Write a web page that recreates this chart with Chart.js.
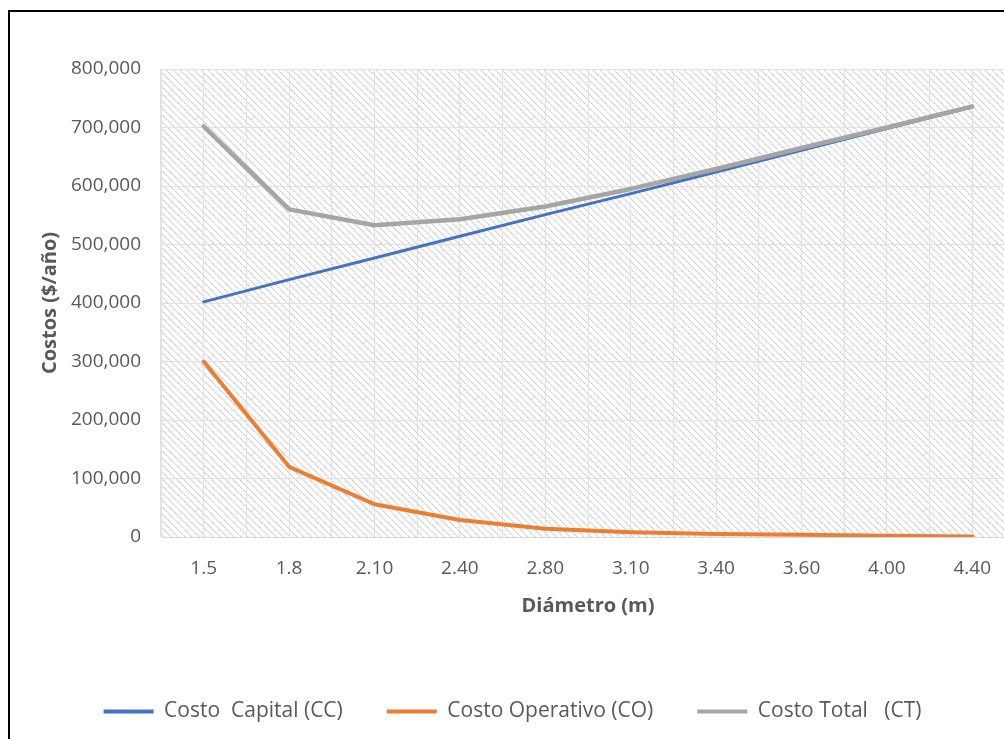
<!DOCTYPE html>
<html>
<head>
<meta charset="utf-8">
<script src="https://cdn.jsdelivr.net/npm/chart.js@4.4.1/dist/chart.umd.min.js"></script>
<style>
  html, body { margin: 0; padding: 0; background: #fff; overflow: hidden; width: 1004px; height: 739px; }
  #frame { position: absolute; left: 8px; top: 10px; border-left: 2px solid #000; border-top: 2px solid #000; width: 1010px; height: 760px; }
  canvas { display: block; }
</style>
</head>
<body>
<div id="frame"><canvas id="chart" width="1010" height="760"></canvas></div>
<script>
// datos
const diametros = ['1.5', '1.8', '2.10', '2.40', '2.80', '3.10', '3.40', '3.60', '4.00', '4.40'];
const costoCapital = [402000, 440000, 477000, 514000, 551000, 587000, 624000, 661000, 698000, 735000];
const costoOperativo = [300000, 120000, 56000, 29000, 14000, 8000, 5000, 4000, 2000, 1000];
const costoTotal = [702000, 560000, 533000, 543000, 565000, 595000, 629000, 665000, 700000, 736000];
const yTicks = [0, 100000, 200000, 300000, 400000, 500000, 600000, 700000, 800000];

const gridColor = '#e2e2e2';
const textColor = '#595959';

Chart.defaults.font.family = "'Open Sans', 'Noto Sans', sans-serif";
Chart.defaults.font.size = 19;
Chart.defaults.color = textColor;

// fondo rayado del area de trazado
function makeHatch() {
  const t = document.createElement('canvas');
  t.width = 7; t.height = 7;
  const g = t.getContext('2d');
  for (let i = 0; i < 7; i++) {
    g.fillStyle = i % 2 ? '#dedede' : '#cccccc';
    g.fillRect(i, i, 1, 1);
    g.fillStyle = '#efefef';
    g.fillRect((i + 1) % 7, i, 1, 1);
  }
  return t;
}

const hatchBg = {
  id: 'hatchBg',
  beforeDraw(chart) {
    const { ctx, chartArea: a } = chart;
    ctx.save();
    ctx.fillStyle = ctx.createPattern(makeHatch(), 'repeat');
    ctx.fillRect(a.left, a.top, a.right - a.left, a.bottom - a.top);
    ctx.restore();
  }
};

const ctx = document.getElementById('chart').getContext('2d');
new Chart(ctx, {
  type: 'line',
  data: {
    labels: diametros,
    datasets: [{
      label: 'Costo  Capital (CC)',
      data: costoCapital,
      borderColor: '#4472C4',
      backgroundColor: '#4472C4',
      borderWidth: 3,
      order: 2
    },
    {
      label: 'Costo Operativo (CO)',
      data: costoOperativo,
      borderColor: '#ED7D31',
      backgroundColor: '#ED7D31',
      borderWidth: 4,
      order: 1
    },
    {
      label: 'Costo Total   (CT)',
      data: costoTotal,
      borderColor: '#A5A5A5',
      backgroundColor: '#A5A5A5',
      borderWidth: 4.5,
      order: 0
    }]
  },
  options: {
    responsive: false,
    animation: false,
    layout: { padding: { left: 0, right: 5, top: 57, bottom: 40 } },
    elements: {
      point: { radius: 0 },
      line: { tension: 0, borderJoinStyle: 'round', borderCapStyle: 'round' }
    },
    plugins: {
      tooltip: { enabled: false },
      legend: {
        position: 'bottom',
        labels: {
          boxWidth: 50,
          boxHeight: 4,
          padding: 44,
          color: textColor,
          font: { size: 21 },
          sort: (a, b) => a.datasetIndex - b.datasetIndex,
          generateLabels(chart) {
            const items = Chart.defaults.plugins.legend.labels.generateLabels(chart);
            items.forEach(it => { it.fillStyle = it.strokeStyle; it.lineWidth = 0; });
            return items;
          }
        }
      }
    },
    scales: {
      x: {
        type: 'category',
        offset: true,
        grid: { color: gridColor, offset: false, drawTicks: false },
        border: { color: '#d9d9d9' },
        ticks: { padding: 20, color: textColor },
        title: {
          display: true,
          text: 'Diámetro (m)',
          color: textColor,
          font: { weight: 'bold', size: 20 },
          padding: { top: 0, bottom: 39 }
        },
        afterFit(s) { s.height = 120; }
      },
      x2: {
        type: 'category',
        position: 'bottom',
        offset: true,
        grid: { color: gridColor, offset: true, drawTicks: false },
        border: { display: false },
        ticks: { display: false },
        afterFit(s) { s.height = 0; }
      },
      y: {
        min: 0,
        max: 800000,
        afterBuildTicks(s) { s.ticks = yTicks.map(v => ({ value: v })); },
        grid: { color: gridColor, drawTicks: false },
        border: { color: gridColor },
        ticks: {
          padding: 20,
          color: textColor,
          callback: v => v.toLocaleString('en-US')
        },
        title: {
          display: true,
          text: 'Costos ($/año)',
          color: textColor,
          font: { weight: 'bold', size: 20 },
          padding: { top: 28, bottom: 0 }
        },
        afterFit(s) { s.width = 151; }
      }
    }
  },
  plugins: [hatchBg]
});
</script>
</body>
</html>
